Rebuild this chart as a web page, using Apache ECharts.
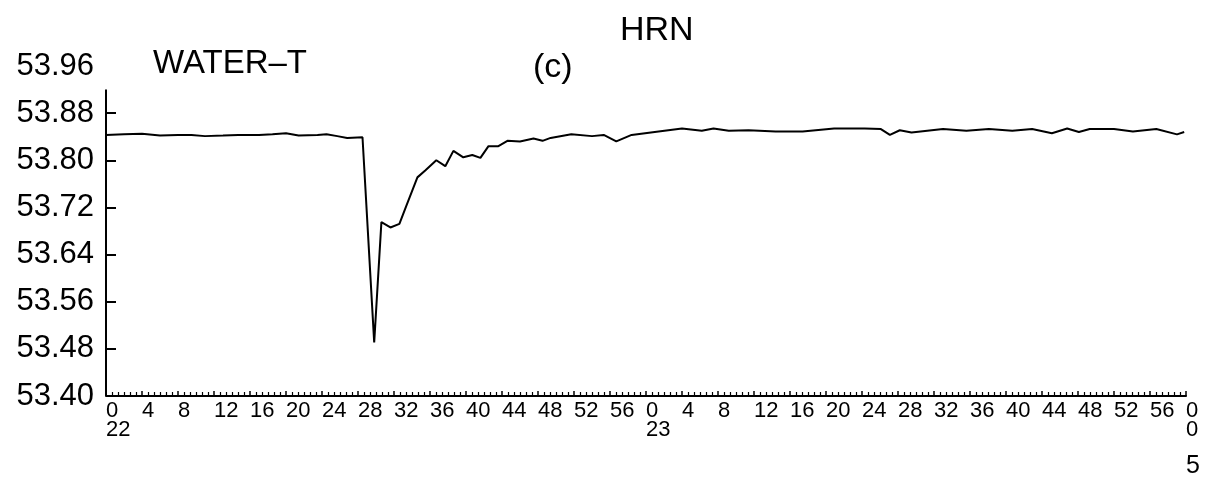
<!DOCTYPE html>
<html>
<head>
<meta charset="utf-8">
<script src="https://cdn.jsdelivr.net/npm/echarts@6/dist/echarts.min.js"></script>
<style>
  html, body { margin: 0; padding: 0; background: #fff; }
  #chart { width: 1209px; height: 482px; }
</style>
</head>
<body>
<div id="chart"></div>
<script>
// minutes since 22:00
var minutes = [
  0, 2, 4, 6, 8, 9.5, 11, 13, 14.7, 17, 18.5, 20, 21.4, 23.5, 24.5, 25.7, 26.8, 28.5,
  29.8, 30.6, 31.6, 32.6, 33.4, 34.6, 35.5, 36.7, 37.7, 38.6, 39.7, 40.7, 41.6, 42.5,
  43.6, 44.6, 46.0, 47.5, 48.5, 49.4, 51.7, 54.0, 55.3, 56.7, 58.4, 61.4, 64.0, 66.2,
  67.5, 69.2, 71.4, 74.4, 77.4, 80.9, 84.3, 86.1, 87.1, 88.2, 89.5, 93.0, 95.6, 98.1,
  100.7, 102.9, 105.1, 106.8, 108.1, 109.3, 112.0, 114.1, 116.7, 119.0, 119.8
];
var waterT = [
  53.843, 53.844, 53.845, 53.842, 53.843, 53.843, 53.841, 53.842, 53.843, 53.843, 53.844, 53.846, 53.842, 53.843, 53.844, 53.841, 53.838, 53.839,
  53.491, 53.695, 53.686, 53.692, 53.724, 53.771, 53.783, 53.800, 53.790, 53.816, 53.805, 53.809, 53.804, 53.824,
  53.824, 53.833, 53.832, 53.837, 53.833, 53.838, 53.844, 53.841, 53.843, 53.832, 53.843, 53.849, 53.854, 53.850,
  53.854, 53.850, 53.851, 53.849, 53.849, 53.854, 53.854, 53.853, 53.843, 53.851, 53.847, 53.853, 53.850, 53.853,
  53.850, 53.853, 53.846, 53.854, 53.848, 53.853, 53.853, 53.849, 53.853, 53.844, 53.848
];

// x tick labels, one per 4 minutes
var xTickLabels = [
  '0\n22', '4', '8', '12', '16', '20', '24', '28', '32', '36', '40', '44', '48', '52', '56',
  '0\n23', '4', '8', '12', '16', '20', '24', '28', '32', '36', '40', '44', '48', '52', '56',
  '0\n0\n5'
];
var yTicks = [53.48, 53.56, 53.64, 53.72, 53.80, 53.88];

var chart = echarts.init(document.getElementById('chart'));

var pts = [];
for (var i = 0; i < minutes.length; i++) {
  pts.push([minutes[i], waterT[i]]);
}

var fam = '"Liberation Sans", Arial, sans-serif';

var option = {
  backgroundColor: '#fff',
  animation: false,
  title: [
    { text: 'HRN', left: 615, top: 9, textStyle: { fontFamily: fam, fontSize: 34, fontWeight: 'normal', color: '#000' } },
    { text: 'WATER–T', left: 148, top: 42, textStyle: { fontFamily: fam, fontSize: 33, fontWeight: 'normal', color: '#000' } },
    { text: '(c)', left: 528, top: 46, textStyle: { fontFamily: fam, fontSize: 34, fontWeight: 'normal', color: '#000' } }
  ],
  grid: { left: 106, right: 23, top: 66, bottom: 86, outerBoundsMode: 'none' },
  xAxis: {
    type: 'value',
    min: 0,
    max: 120,
    interval: 4,
    axisLine: { show: true, lineStyle: { color: '#000', width: 2 } },
    axisTick: { show: true, inside: true, length: 5, lineStyle: { color: '#000', width: 1.5 } },
    minorTick: { show: true, splitNumber: 6, length: 4, lineStyle: { color: '#000', width: 1.2 } },
    splitLine: { show: false },
    axisLabel: {
      show: true,
      showMinLabel: true,
      showMaxLabel: true,
      align: 'left',
      margin: 5,
      fontFamily: fam,
      fontSize: 22,
      lineHeight: 19,
      color: '#000',
      rich: {
        a: { fontFamily: fam, fontSize: 22, lineHeight: 19, color: '#000' },
        b: { fontFamily: fam, fontSize: 25, lineHeight: 40, color: '#000', verticalAlign: 'bottom' }
      },
      formatter: function (v) {
        var k = Math.round(v / 4);
        var s = xTickLabels[k];
        if (s === undefined) return '';
        if (k === xTickLabels.length - 1) {
          var p = s.split('\n');
          return '{a|' + p[0] + '}\n{a|' + p[1] + '}\n{b|' + p[2] + '}';
        }
        return s;
      }
    }
  },
  yAxis: {
    type: 'value',
    min: 53.40,
    max: 53.96,
    interval: 0.08,
    axisLine: { show: false },
    axisTick: { show: true, inside: true, length: 10, customValues: yTicks, lineStyle: { color: '#000', width: 2 } },
    splitLine: { show: false },
    axisLabel: {
      margin: 12,
      fontFamily: fam,
      fontSize: 31,
      color: '#000',
      formatter: function (v) { return v.toFixed(2); }
    }
  },
  series: [{
    type: 'line',
    data: pts,
    showSymbol: false,
    symbol: 'none',
    lineStyle: { color: '#000', width: 2 },
    markLine: {
      silent: true,
      symbol: 'none',
      label: { show: false },
      lineStyle: { color: '#000', width: 2, type: 'solid' },
      data: [[{ coord: [0, 53.40] }, { coord: [0, 53.92] }]]
    }
  }]
};

chart.setOption(option);
</script>
</body>
</html>
